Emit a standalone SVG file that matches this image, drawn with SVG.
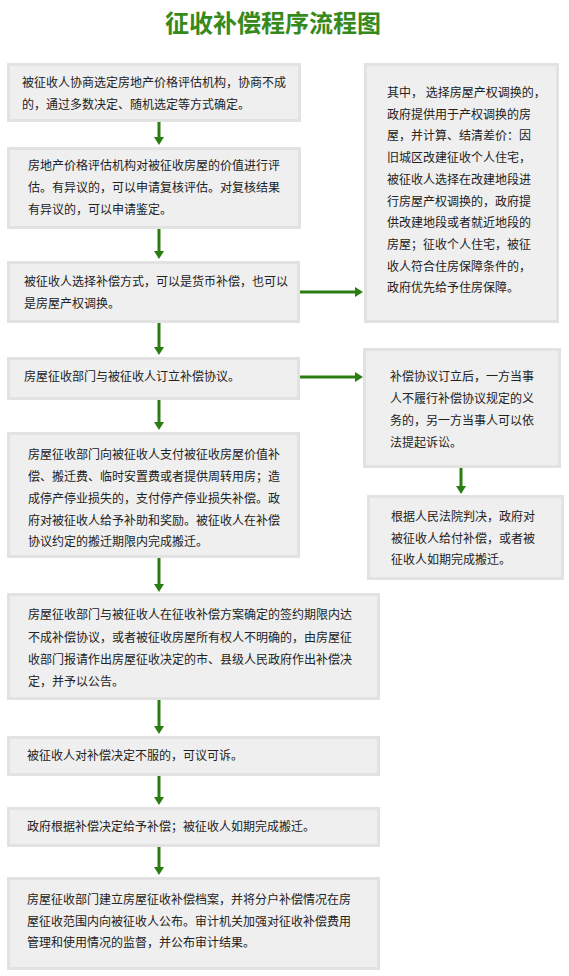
<svg xmlns="http://www.w3.org/2000/svg" width="569" height="976" viewBox="0 0 569 976">
<defs>
<style>
.box{fill:#efefef;stroke:#e2e2e2;stroke-width:3}
.t{font-family:"Noto Sans CJK SC","Noto Sans",sans-serif;font-size:12px;fill:#222}
.title{font-family:"Noto Sans CJK SC",sans-serif;font-size:24px;font-weight:bold;fill:#368a1c}
.ar{stroke:#2b7d12;stroke-width:3;fill:none;marker-end:url(#ah)}
</style>
<marker id="ah" markerUnits="userSpaceOnUse" viewBox="0 0 8 10" markerWidth="8" markerHeight="10" refX="2" refY="5" orient="auto">
<path d="M0,0 L8,5 L0,10 z" fill="#2b7d12"/>
</marker>
</defs>
<rect width="569" height="976" fill="#ffffff"/>
<text class="title" x="273" y="32" text-anchor="middle">征收补偿程序流程图</text>

<g id="connectors">
<line class="ar" x1="159" y1="122" x2="159" y2="139"/>
<line class="ar" x1="159" y1="229" x2="159" y2="253"/>
<line class="ar" x1="159" y1="323" x2="159" y2="349"/>
<line class="ar" x1="159" y1="400" x2="159" y2="424"/>
<line class="ar" x1="159" y1="558" x2="159" y2="586"/>
<line class="ar" x1="159" y1="700" x2="159" y2="728"/>
<line class="ar" x1="159" y1="776" x2="159" y2="799"/>
<line class="ar" x1="159" y1="847" x2="159" y2="869"/>
<line class="ar" x1="300" y1="292" x2="357" y2="292"/>
<line class="ar" x1="300" y1="377" x2="357" y2="377"/>
<line class="ar" x1="461" y1="468" x2="461" y2="488"/>
</g>

<g id="n1">
<rect class="box" x="8.5" y="64.5" width="291" height="56"/>
<text class="t"><tspan x="22" y="87">被征收人协商选定房地产价格评估机构，协商不成</tspan><tspan x="22" y="109">的，通过多数决定、随机选定等方式确定。</tspan></text>
</g>
<g id="n2">
<rect class="box" x="8.5" y="148.5" width="291" height="79"/>
<text class="t"><tspan x="28" y="170">房地产价格评估机构对被征收房屋的价值进行评</tspan><tspan x="28" y="192">估。有异议的，可以申请复核评估。对复核结果</tspan><tspan x="28" y="214">有异议的，可以申请鉴定。</tspan></text>
</g>
<g id="n3">
<rect class="box" x="8.5" y="262.5" width="290" height="59"/>
<text class="t"><tspan x="24" y="286">被征收人选择补偿方式，可以是货币补偿，也可以</tspan><tspan x="24" y="308">是房屋产权调换。</tspan></text>
</g>
<g id="r1">
<rect class="box" x="365.5" y="64.5" width="192" height="257"/>
<text class="t"><tspan x="387" y="97">其中， 选择房屋产权调换的，</tspan><tspan x="387" y="118.7">政府提供用于产权调换的房</tspan><tspan x="387" y="140.4">屋，并计算、结清差价：因</tspan><tspan x="387" y="162.1">旧城区改建征收个人住宅，</tspan><tspan x="387" y="183.8">被征收人选择在改建地段进</tspan><tspan x="387" y="205.5">行房屋产权调换的，政府提</tspan><tspan x="387" y="227.2">供改建地段或者就近地段的</tspan><tspan x="387" y="248.9">房屋；征收个人住宅，被征</tspan><tspan x="387" y="270.6">收人符合住房保障条件的，</tspan><tspan x="387" y="292.3">政府优先给予住房保障。</tspan></text>
</g>
<g id="n4">
<rect class="box" x="8.5" y="358.5" width="290" height="40"/>
<text class="t"><tspan x="24" y="381">房屋征收部门与被征收人订立补偿协议。</tspan></text>
</g>
<g id="r2">
<rect class="box" x="364.5" y="349.5" width="195" height="117"/>
<text class="t"><tspan x="390" y="381">补偿协议订立后，一方当事</tspan><tspan x="390" y="403">人不履行补偿协议规定的义</tspan><tspan x="390" y="425">务的，另一方当事人可以依</tspan><tspan x="390" y="447">法提起诉讼。</tspan></text>
</g>
<g id="r3">
<rect class="box" x="368.5" y="496.5" width="194" height="82"/>
<text class="t"><tspan x="391" y="521">根据人民法院判决，政府对</tspan><tspan x="391" y="543">被征收人给付补偿，或者被</tspan><tspan x="391" y="564">征收人如期完成搬迁。</tspan></text>
</g>
<g id="n5">
<rect class="box" x="8.5" y="433.5" width="290" height="123"/>
<text class="t"><tspan x="28" y="459">房屋征收部门向被征收人支付被征收房屋价值补</tspan><tspan x="28" y="481">偿、搬迁费、临时安置费或者提供周转用房；造</tspan><tspan x="28" y="503">成停产停业损失的，支付停产停业损失补偿。政</tspan><tspan x="28" y="525">府对被征收人给予补助和奖励。被征收人在补偿</tspan><tspan x="28" y="546">协议约定的搬迁期限内完成搬迁。</tspan></text>
</g>
<g id="n6">
<rect class="box" x="8.5" y="594.5" width="370" height="104"/>
<text class="t"><tspan x="28" y="619">房屋征收部门与被征收人在征收补偿方案确定的签约期限内达</tspan><tspan x="28" y="642">不成补偿协议，或者被征收房屋所有权人不明确的，由房屋征</tspan><tspan x="28" y="664">收部门报请作出房屋征收决定的市、县级人民政府作出补偿决</tspan><tspan x="28" y="686">定，并予以公告。</tspan></text>
</g>
<g id="n7">
<rect class="box" x="8.5" y="737.5" width="370" height="37"/>
<text class="t"><tspan x="27" y="760">被征收人对补偿决定不服的，可议可诉。</tspan></text>
</g>
<g id="n8">
<rect class="box" x="8.5" y="808.5" width="370" height="37"/>
<text class="t"><tspan x="27" y="831">政府根据补偿决定给予补偿；被征收人如期完成搬迁。</tspan></text>
</g>
<g id="n9">
<rect class="box" x="8.5" y="878.5" width="370" height="90"/>
<text class="t"><tspan x="27" y="904">房屋征收部门建立房屋征收补偿档案，并将分户补偿情况在房</tspan><tspan x="27" y="925.5">屋征收范围内向被征收人公布。审计机关加强对征收补偿费用</tspan><tspan x="27" y="947">管理和使用情况的监督，并公布审计结果。</tspan></text>
</g>
</svg>
